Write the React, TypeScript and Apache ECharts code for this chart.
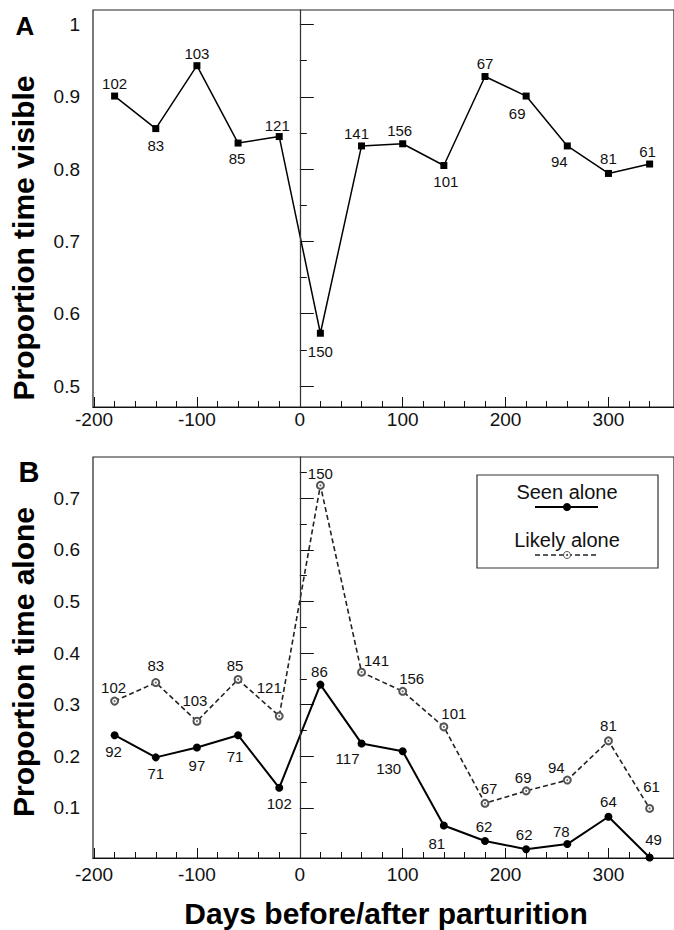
import React, { useEffect, useRef } from "react";
import * as echarts from "echarts";

// ---- data ----
const days = [-180, -140, -100, -60, -20, 20, 60, 100, 140, 180, 220, 260, 300, 340];
const visible = [0.901, 0.856, 0.943, 0.836, 0.845, 0.573, 0.832, 0.835, 0.805, 0.928, 0.901, 0.832, 0.794, 0.807];
const nVisible = [102, 83, 103, 85, 121, 150, 141, 156, 101, 67, 69, 94, 81, 61];
const seenAlone = [0.241, 0.198, 0.217, 0.241, 0.139, 0.339, 0.225, 0.21, 0.066, 0.036, 0.02, 0.03, 0.083, 0.004];
const nSeen = [92, 71, 97, 71, 102, 86, 117, 130, 81, 62, 62, 78, 64, 49];
const likelyAlone = [0.307, 0.343, 0.268, 0.349, 0.278, 0.725, 0.363, 0.326, 0.257, 0.109, 0.133, 0.154, 0.23, 0.099];
const nLikely = [102, 83, 103, 85, 121, 150, 141, 156, 101, 67, 69, 94, 81, 61];

const xMajorTicks = [-200, -100, 0, 100, 200, 300];
const xMinorTicks = [-180, -160, -140, -120, -80, -60, -40, -20, 20, 40, 60, 80, 120, 140, 160, 180, 220, 240, 260, 280, 320, 340];
const yMajorA = [0.5, 0.6, 0.7, 0.8, 0.9, 1];
const yMinorA = [0.55, 0.65, 0.75, 0.85, 0.95];
const yMajorB = [0.1, 0.2, 0.3, 0.4, 0.5, 0.6, 0.7];
const yMinorB = [0.05, 0.15, 0.25, 0.35, 0.45, 0.55, 0.65, 0.75];

// label placement (pixel offsets of label centre from its point)
const offVisible = [[0, -13], [0, 17], [0, -12], [-1, 15], [-2, -11], [0, 18], [-5, -12], [-3, -13], [2, 16], [0, -13], [-9, 17], [-8, 16], [0, -15], [-2, -13]];
const offSeen = [[-1, 16], [0, 16], [0, 18], [-3, 21], [0, 16], [-1, -13], [-14, 15], [-14, 17], [-7, 18], [-1, -14], [-2, -15], [-6, -13], [0, -15], [4, -18]];
const offLikely = [[-1, -14], [0, -17], [-2, -21], [-3, -14], [-10, -29], [0, -12], [15, -12], [9, -13], [10, -13], [4, -15], [-3, -13], [-11, -13], [0, -15], [2, -22]];

const FONT = "'Liberation Sans', Arial, Helvetica, sans-serif";
const X_MIN = -201;
const X_MAX = 363.7;

export default function App() {
  const ref = useRef<HTMLDivElement>(null);

  useEffect(() => {
    if (!ref.current) return;
    const chart = echarts.init(ref.current, undefined, { renderer: "svg" });

    const mkData = (ys: number[], offs: number[][]) =>
      days.map((x, i) => ({ value: [x, ys[i]], label: { offset: offs[i] } }));

    const labelStyle = (ns: number[]) => ({
      show: true,
      position: "inside",
      formatter: (p: any) => String(ns[p.dataIndex]),
      fontFamily: FONT,
      fontSize: 15,
      color: "#111",
    });

    const zeroLine = {
      silent: true,
      symbol: ["none", "none"],
      label: { show: false },
      lineStyle: { color: "#333", width: 1, type: "solid" },
      data: [{ xAxis: 0 }],
    };

    const mainX = (gridIndex: number, margin: number) => ({
      type: "value",
      gridIndex,
      position: "bottom",
      min: X_MIN,
      max: X_MAX,
      axisLine: { show: true, lineStyle: { color: "#111", width: 1.2 } },
      axisTick: { show: true, inside: true, length: 10, customValues: xMajorTicks, lineStyle: { color: "#111", width: 1 } },
      axisLabel: { show: true, customValues: xMajorTicks, margin, fontFamily: FONT, fontSize: 19, color: "#111", formatter: (v: number) => String(v) },
      splitLine: { show: false },
    });
    const minorX = (gridIndex: number) => ({
      type: "value",
      gridIndex,
      position: "bottom",
      min: X_MIN,
      max: X_MAX,
      axisLine: { show: false },
      axisTick: { show: true, inside: true, length: 6, customValues: xMinorTicks, lineStyle: { color: "#111", width: 1 } },
      axisLabel: { show: false },
      splitLine: { show: false },
    });
    const mainY = (gridIndex: number, min: number, max: number, majors: number[]) => ({
      type: "value",
      gridIndex,
      position: "left",
      min,
      max,
      axisLine: { show: true, lineStyle: { color: "#111", width: 1.2 } },
      axisTick: { show: true, inside: true, length: 14, customValues: majors, lineStyle: { color: "#111", width: 1 } },
      axisLabel: { show: true, customValues: majors, margin: 13, fontFamily: FONT, fontSize: 19, color: "#111", formatter: (v: number) => String(v) },
      splitLine: { show: false },
    });
    const minorY = (gridIndex: number, min: number, max: number, minors: number[]) => ({
      type: "value",
      gridIndex,
      position: "left",
      min,
      max,
      axisLine: { show: false },
      axisTick: { show: true, inside: true, length: 7, customValues: minors, lineStyle: { color: "#111", width: 1 } },
      axisLabel: { show: false },
      splitLine: { show: false },
    });

    const option: any = {
      animation: false,
      backgroundColor: "#fff",
      grid: [
        { left: 93, top: 10, width: 590, height: 397, show: true, borderColor: "#222", borderWidth: 1.2 },
        { left: 93, top: 457, width: 590, height: 401, show: true, borderColor: "#222", borderWidth: 1.2 },
      ],
      xAxis: [mainX(0, 3), minorX(0), mainX(1, 7), minorX(1)],
      yAxis: [
        mainY(0, 0.471, 1.02, yMajorA),
        minorY(0, 0.471, 1.02, yMinorA),
        mainY(1, 0.003, 0.78, yMajorB),
        minorY(1, 0.003, 0.78, yMinorB),
      ],
      series: [
        {
          name: "Proportion time visible",
          type: "line",
          xAxisIndex: 0,
          yAxisIndex: 0,
          data: mkData(visible, offVisible),
          symbol: "rect",
          symbolSize: 7,
          itemStyle: { color: "#000" },
          lineStyle: { color: "#000", width: 1.5 },
          label: labelStyle(nVisible),
          markLine: zeroLine,
          z: 3,
        },
        {
          name: "Likely alone",
          type: "line",
          xAxisIndex: 2,
          yAxisIndex: 2,
          data: mkData(likelyAlone, offLikely),
          symbol: "emptyCircle",
          symbolSize: 7,
          itemStyle: { color: "#555", borderWidth: 1 },
          lineStyle: { color: "#222", width: 1.6, type: [5, 3] },
          label: labelStyle(nLikely),
          z: 3,
        },
        {
          name: "Likely alone dot",
          type: "scatter",
          xAxisIndex: 2,
          yAxisIndex: 2,
          data: days.map((x, i) => [x, likelyAlone[i]]),
          symbol: "circle",
          symbolSize: 2,
          itemStyle: { color: "#444" },
          silent: true,
          z: 4,
        },
        {
          name: "Seen alone",
          type: "line",
          xAxisIndex: 2,
          yAxisIndex: 2,
          data: mkData(seenAlone, offSeen),
          symbol: "circle",
          symbolSize: 8,
          itemStyle: { color: "#000" },
          lineStyle: { color: "#000", width: 2 },
          label: labelStyle(nSeen),
          markLine: zeroLine,
          z: 3,
        },
      ],
      graphic: [
        { type: "text", x: 25, y: 26, style: { text: "A", font: `bold 26px ${FONT}`, fill: "#000", align: "center", verticalAlign: "middle" } },
        { type: "text", x: 29, y: 472, style: { text: "B", font: `bold 29px ${FONT}`, fill: "#000", align: "center", verticalAlign: "middle" } },
        { type: "text", x: 23, y: 238, rotation: Math.PI / 2, style: { text: "Proportion time visible", font: `bold 30px ${FONT}`, fill: "#000", align: "center", verticalAlign: "middle" } },
        { type: "text", x: 23, y: 662, rotation: Math.PI / 2, style: { text: "Proportion time alone", font: `bold 30px ${FONT}`, fill: "#000", align: "center", verticalAlign: "middle" } },
        { type: "text", x: 386, y: 913, style: { text: "Days before/after parturition", font: `bold 30px ${FONT}`, fill: "#000", align: "center", verticalAlign: "middle" } },
        // legend
        { type: "rect", shape: { x: 477, y: 475, width: 181, height: 93 }, style: { fill: "#fff", stroke: "#333", lineWidth: 1.2 }, z: 10 },
        { type: "text", x: 567, y: 492, z: 11, style: { text: "Seen alone", font: `20px ${FONT}`, fill: "#111", align: "center", verticalAlign: "middle" } },
        { type: "line", z: 11, shape: { x1: 535, y1: 507, x2: 598, y2: 507 }, style: { stroke: "#000", lineWidth: 2 } },
        { type: "circle", z: 12, shape: { cx: 567, cy: 507, r: 4 }, style: { fill: "#000" } },
        { type: "text", x: 567, y: 540, z: 11, style: { text: "Likely alone", font: `20px ${FONT}`, fill: "#111", align: "center", verticalAlign: "middle" } },
        { type: "line", z: 11, shape: { x1: 535, y1: 555, x2: 598, y2: 555 }, style: { stroke: "#222", lineWidth: 1.6, lineDash: [5, 3] } },
        { type: "circle", z: 12, shape: { cx: 567, cy: 555, r: 3.5 }, style: { fill: "#fff", stroke: "#555", lineWidth: 1 } },
        { type: "circle", z: 13, shape: { cx: 567, cy: 555, r: 1 }, style: { fill: "#444" } },
      ],
    };

    chart.setOption(option);
    return () => chart.dispose();
  }, []);

  return <div ref={ref} style={{ position: "fixed", left: 0, top: 0, width: 674, height: 930, background: "#fff" }} />;
}
